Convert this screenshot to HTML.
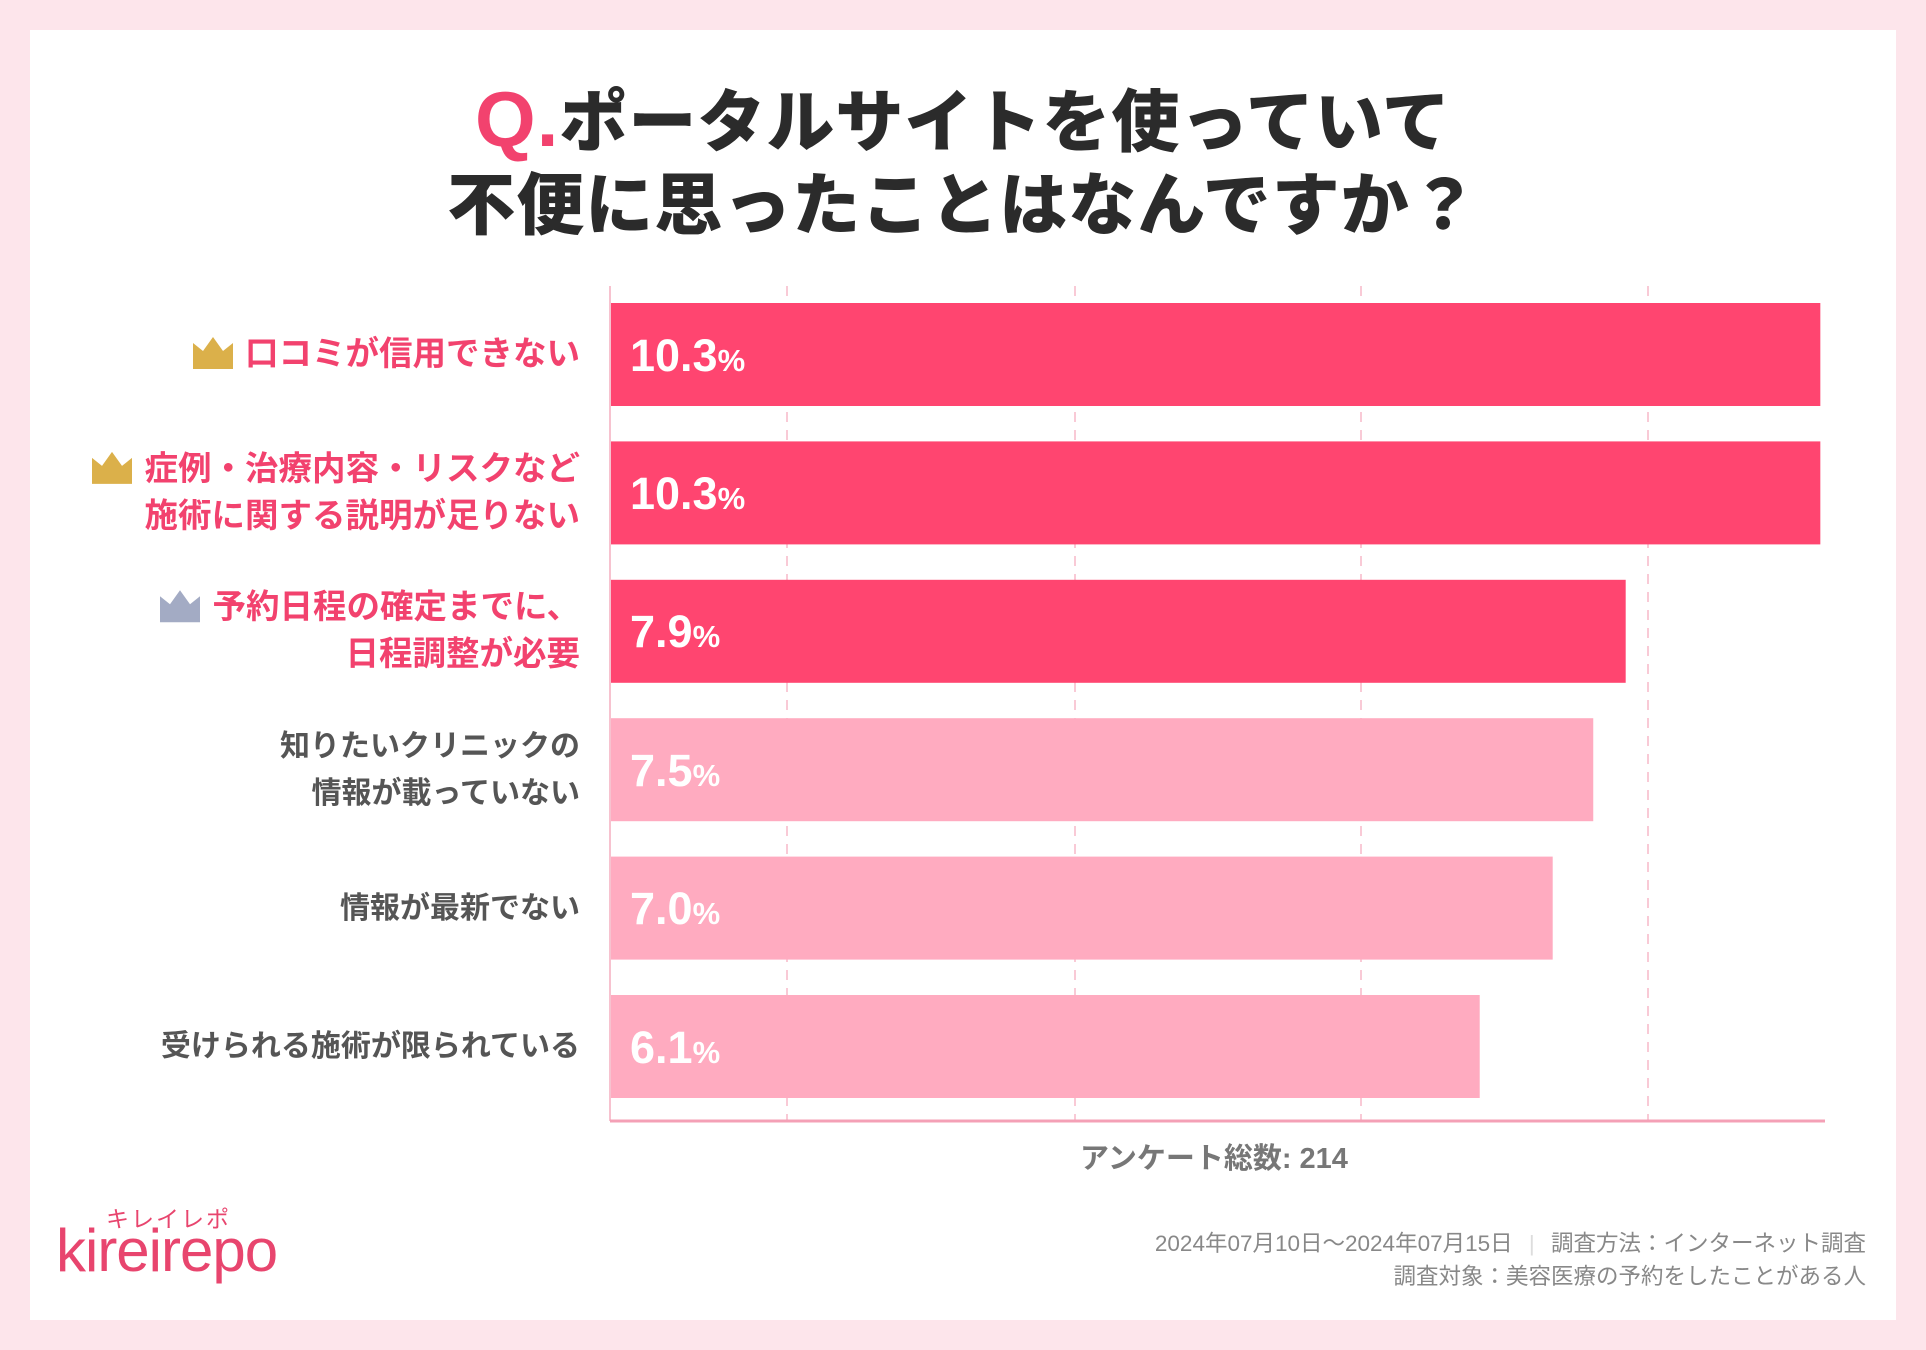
<!DOCTYPE html>
<html><head><meta charset="utf-8">
<style>
html,body{margin:0;padding:0;}
body{width:1926px;height:1350px;background:#fde5eb;position:relative;overflow:hidden;font-family:"Liberation Sans","Noto Sans CJK JP",sans-serif;}
#card{position:absolute;left:30px;top:30px;width:1866px;height:1290px;background:#fff;}
.title{position:absolute;left:0;width:1926px;text-align:center;font-weight:900;font-size:68px;color:#2b2b2b;letter-spacing:1px;line-height:1;}
.lbl{position:absolute;right:1346px;text-align:right;font-weight:700;font-size:33.5px;line-height:47px;white-space:nowrap;}
.lbl.gray{font-size:30px;}
.val{position:absolute;color:#fff;font-weight:700;font-size:45px;line-height:1;}
.val small{font-size:31px;}
</style></head>
<body>
<div id="card"></div>
<div class="title" style="top:80px"><span style="color:#f2426e;font-size:78px">Q.</span>ポータルサイトを使っていて</div>
<div class="title" style="top:172px">不便に思ったことはなんですか？</div>
<svg id="chart" width="1926" height="1350" style="position:absolute;left:0;top:0"></svg>
<div id="labels"></div>
<div style="position:absolute;left:1080px;top:1135px;font-size:29px;font-weight:700;color:#777;">アンケート総数: 214</div>
<div style="position:absolute;left:106px;top:1200px;font-size:23px;color:#e8456e;letter-spacing:2px">キレイレポ</div>
<div style="position:absolute;left:56px;top:1216px;font-size:60px;color:#e8456e;letter-spacing:-1px">kireirepo</div>
<div style="position:absolute;right:60px;top:1227px;font-size:22.5px;color:#888;text-align:right;line-height:33px">2024年07月10日〜2024年07月15日 <span style="color:#ddd;margin:0 10px">|</span> 調査方法：インターネット調査<br>調査対象：美容医療の予約をしたことがある人</div>
<script>
const categories=[["口コミが信用できない"],["症例・治療内容・リスクなど","施術に関する説明が足りない"],["予約日程の確定までに、","日程調整が必要"],["知りたいクリニックの","情報が載っていない"],["情報が最新でない"],["受けられる施術が限られている"]];
const values=[10.3,10.3,7.9,7.5,7.0,6.1];
const ranks=[1,1,2,0,0,0];
const x0=610,plotTop=286,plotBottom=1121,pitch=138.4,barH=103,barTop0=303;
function xw(v){return 374+81.1*v;}
function yb(i){return barTop0+i*pitch;}
const svg=document.getElementById('chart');
const NS='http://www.w3.org/2000/svg';
[787,1075,1361,1648].forEach(function(gx){
  const l=document.createElementNS(NS,'line');
  l.setAttribute('x1',gx);l.setAttribute('x2',gx);l.setAttribute('y1',plotTop);l.setAttribute('y2',plotBottom);
  l.setAttribute('stroke','#f7b9c8');l.setAttribute('stroke-width','1.5');l.setAttribute('stroke-dasharray','10 8');
  
  
  svg.appendChild(l);
});
const ax=document.createElementNS(NS,'line');
ax.setAttribute('x1',x0);ax.setAttribute('x2',x0);ax.setAttribute('y1',plotTop);ax.setAttribute('y2',plotBottom);
ax.setAttribute('stroke','#f7c2cf');ax.setAttribute('stroke-width','2');


svg.appendChild(ax);
const bx=document.createElementNS(NS,'line');
bx.setAttribute('x1',x0);bx.setAttribute('x2',1825);bx.setAttribute('y1',plotBottom);bx.setAttribute('y2',plotBottom);
bx.setAttribute('stroke','#f4a0b6');bx.setAttribute('stroke-width','3');


svg.appendChild(bx);
const lab=document.getElementById('labels');
values.forEach(function(v,i){
  const top=ranks[i]>0;
  const r=document.createElementNS(NS,'rect');
  r.setAttribute('x',x0+1);r.setAttribute('y',yb(i));r.setAttribute('width',xw(v));r.setAttribute('height',barH);
  r.setAttribute('fill',top?'#ff4570':'#ffabc0');
  
  
  svg.appendChild(r);
  const t=document.createElement('div');
  t.className='val';
  t.style.left=(x0+20)+'px';t.style.top=(yb(i)+barH/2-22)+'px';
  t.innerHTML=v.toFixed(1)+'<small>%</small>';
  
  
  lab.appendChild(t);
  const c=categories[i];
  const d=document.createElement('div');
  d.className=top?'lbl':'lbl gray';
  d.style.color=top?'#f2426e':'#555';
  d.style.top=(yb(i)+barH/2-c.length*47/2)+'px';
  d.innerHTML=c.join('<br>');
  
  
  lab.appendChild(d);
  if(top){
    const cr=document.createElementNS(NS,'path');
    const w=d.offsetWidth;
    const cx=580-w-32, cy=yb(i)+barH/2-c.length*47/2+10;
    cr.setAttribute('d','M'+(cx-20)+' '+(cy+28)+' L'+(cx-20)+' '+(cy+2)+' L'+(cx-10)+' '+(cy+10)+' L'+cx+' '+(cy-4)+' L'+(cx+10)+' '+(cy+10)+' L'+(cx+20)+' '+(cy+2)+' L'+(cx+20)+' '+(cy+28)+' Z');
    cr.setAttribute('fill',ranks[i]===1?'#dbb04a':'#a3abc4');
    
    
    svg.appendChild(cr);
  }
});
</script>
</body></html>
